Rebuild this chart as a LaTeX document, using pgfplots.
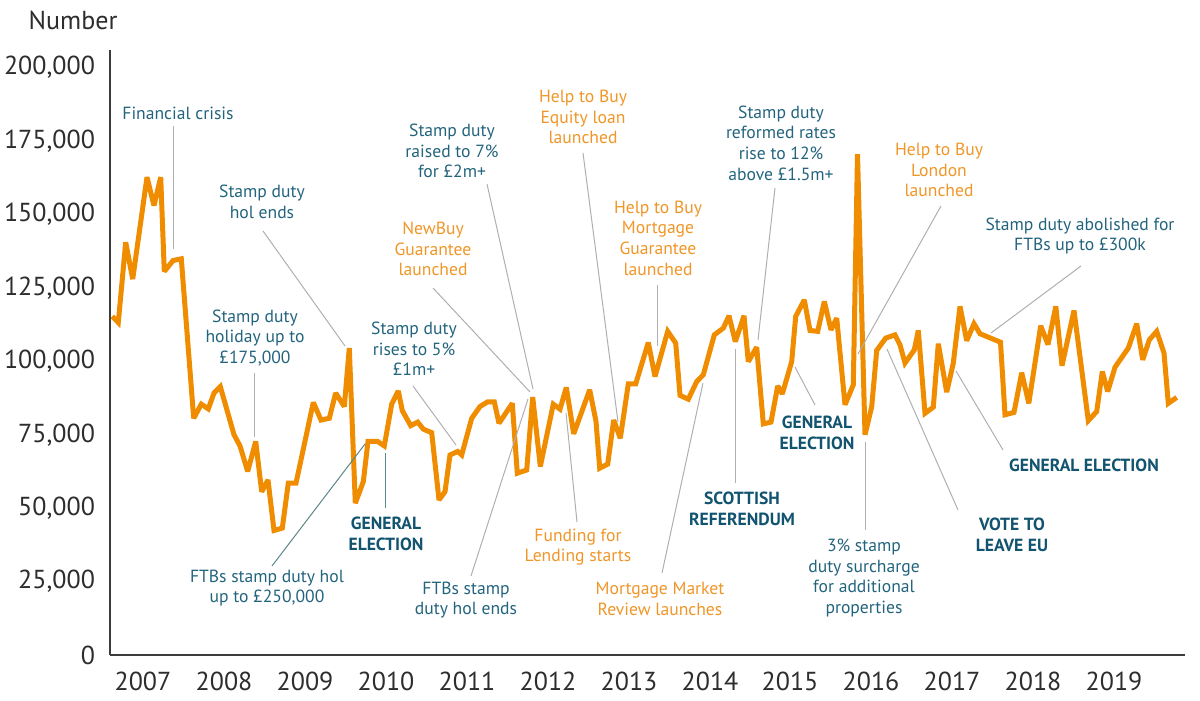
\documentclass[border=0pt]{standalone}
\usepackage{fontspec}
\setmainfont{PT Sans}
\usepackage{pgfplots}
\pgfplotsset{compat=1.18}
\definecolor{lineor}{RGB}{240,140,0}
\definecolor{txtor}{RGB}{240,150,40}
\definecolor{teal}{RGB}{35,100,125}
\definecolor{teald}{RGB}{18,84,112}
\definecolor{leadg}{RGB}{175,175,175}
\definecolor{leadt}{RGB}{90,135,135}
\definecolor{axisgrey}{RGB}{60,60,60}
\definecolor{tickgrey}{RGB}{45,45,45}
\pgfplotstableread{
x y
112.3 115300
118.3 113200
125.7 140500
132.7 128000
147.0 162700
154.0 153000
160.7 162700
164.3 130600
173.0 134300
181.3 134900
193.7 80600
201.3 85400
208.3 83800
214.0 89200
220.3 91400
234.0 75000
240.0 71200
247.7 62500
255.7 72700
261.7 55600
268.0 59600
274.0 42400
282.3 43200
288.3 58500
296.0 58500
313.3 86000
321.0 80000
329.3 80600
335.7 89200
344.3 84600
349.3 104500
355.3 51700
363.3 59000
368.0 72700
377.7 72700
384.3 71200
391.7 85400
398.3 89900
402.3 83200
410.7 78100
417.7 79300
423.3 76900
431.7 75700
439.0 52800
445.0 55600
450.0 68100
457.7 69300
461.7 68100
471.7 80600
480.0 84600
487.7 86200
494.3 86200
499.0 78900
512.3 85700
517.3 61900
526.7 63000
532.7 87800
540.3 64200
553.3 85400
560.0 83700
566.3 91100
573.7 75300
589.7 90300
596.0 79500
599.7 63600
607.7 65000
613.7 80000
620.3 73800
628.3 92300
635.7 92300
648.3 106400
655.0 94800
667.7 110200
675.7 106200
680.0 88400
688.3 87100
696.7 93100
703.3 95400
714.3 109000
723.3 111300
729.0 115500
735.3 106700
744.0 115500
748.3 99900
756.7 104800
763.3 78700
771.0 79300
777.7 91600
782.3 88900
791.7 99900
795.7 115300
804.3 120900
810.0 110500
817.7 110200
824.3 120400
831.0 110700
836.7 114700
845.0 85200
853.3 92000
857.5 170500
865.0 75000
871.7 84500
876.7 103700
885.7 107900
895.0 109000
900.0 105600
905.0 99400
914.3 103900
918.3 110500
925.0 82300
933.3 84400
938.3 106000
946.7 89500
953.3 99400
960.0 118700
966.7 107000
974.0 112800
980.0 109400
1000.5 106500
1005.0 81800
1014.0 82600
1021.7 96100
1028.8 85700
1040.7 112100
1048.0 105700
1055.8 118700
1062.0 98500
1074.0 117300
1088.3 79800
1096.7 82900
1102.3 96500
1107.7 89700
1115.0 98000
1128.3 104500
1136.7 112800
1142.7 100500
1149.3 107300
1156.7 110200
1164.0 102800
1168.3 85700
1176.7 87700
}\datatable
\begin{document}
\begin{tikzpicture}
\path[use as bounding box] (0,0) rectangle (600pt,350.5pt);
\begin{axis}[
  at={(55pt,23pt)}, anchor=south west,
  scale only axis, width=537.5pt, height=302.5pt,
  xmin=110, xmax=1185, ymin=0, ymax=206000,
  axis x line=bottom, axis y line=left,
  axis line style={-, draw=axisgrey, line width=0.8pt},
  ytick={0,25000,50000,75000,100000,125000,150000,175000,200000},
  yticklabels={0,{25,000},{50,000},{75,000},{100,000},{125,000},{150,000},{175,000},{200,000}},
  xtick={143,224,305,386,467,548,629,710,790,871,952,1033,1114},
  xticklabels={2007,2008,2009,2010,2011,2012,2013,2014,2015,2016,2017,2018,2019},
  scaled y ticks=false,
  major tick length=0pt,
  tick label style={font=\fontsize{13}{15}\selectfont, text=tickgrey},
  yticklabel style={anchor=east, xshift=-4pt},
  xticklabel style={anchor=north, yshift=-5pt},
  clip=false,
]
\addplot[lineor, line width=2.5pt, line join=miter, miter limit=2.5] table[x=x, y=y] {\datatable};
\end{axis}
\begin{scope}[shift={(0,350.5pt)}, x=0.5pt, y=-0.5pt,
  every node/.style={align=center, inner sep=0pt, font=\fontsize{8.8}{10.3}\selectfont},
  lt/.style={text=teal}, lo/.style={text=txtor}, lb/.style={text=teald, font=\fontsize{8.8}{10.3}\selectfont\bfseries},
  ld/.style={draw=leadg, line width=0.5pt}, ldt/.style={draw=leadt, line width=0.5pt}]
\node[text=tickgrey, font=\fontsize{13}{15}\selectfont] at (73,20) {Number};
% leader lines
\draw[ld] (173,126) -- (173,249);
\draw[ld] (263,231) -- (345,346);
\draw[ld] (254,373) -- (254,437);
\draw[ldt] (272,566) -- (365,444);
\draw[ldt] (385,453) -- (385,508);
\draw[ld] (413,386) -- (456,445);
\draw[ld] (433,288) -- (530,392);
\draw[ld] (487,184) -- (533,389);
\draw[ld] (471,576) -- (528,399);
\draw[ld] (583,153) -- (618,422);
\draw[ld] (566,413) -- (577,522);
\draw[ld] (657,285) -- (657,346);
\draw[ld] (662,573) -- (703,383);
\draw[ld] (735,349) -- (735,483);
\draw[ld] (775,188) -- (758,340);
\draw[ld] (815,405) -- (795,367);
\draw[ld] (865,442) -- (865,530);
\draw[ld] (941,206) -- (858,354);
\draw[ld] (958,510) -- (887,349);
\draw[ld] (1003,450) -- (956,371);
\draw[ld] (1081,266) -- (991,333);
% labels
\node[lt] at (178,113) {Financial crisis};
\node[lt] at (262,202) {Stamp duty\\hol ends};
\node[lt] at (255,338) {Stamp duty\\holiday up to\\£175,000};
\node[lt] at (267,588) {FTBs stamp duty hol\\up to £250,000};
\node[lb] at (386,534) {GENERAL\\ELECTION};
\node[lt] at (414,349) {Stamp duty\\rises to 5\%\\£1m+};
\node[lo] at (433,249) {NewBuy\\Guarantee\\launched};
\node[lt] at (452,151) {Stamp duty\\raised to 7\%\\for £2m+};
\node[lt] at (466,600) {FTBs stamp\\duty hol ends};
\node[lo] at (583,117) {Help to Buy\\Equity loan\\launched};
\node[lo] at (578,547) {Funding for\\Lending starts};
\node[lo] at (658,238) {Help to Buy\\Mortgage\\Guarantee\\launched};
\node[lo] at (660,599) {Mortgage Market\\Review launches};
\node[lb] at (742,509) {SCOTTISH\\REFERENDUM};
\node[lt] at (781,143) {Stamp duty\\reformed rates\\rise to 12\%\\above £1.5m+};
\node[lb] at (817,433) {GENERAL\\ELECTION};
\node[lt] at (864,578) {3\% stamp\\duty surcharge\\for additional\\properties};
\node[lo] at (939,170) {Help to Buy\\London\\launched};
\node[lb] at (1012,535) {VOTE TO\\LEAVE EU};
\node[lb] at (1084,465) {GENERAL ELECTION};
\node[lt] at (1080,236) {Stamp duty abolished for\\FTBs up to £300k};
\end{scope}
\end{tikzpicture}
\end{document}
